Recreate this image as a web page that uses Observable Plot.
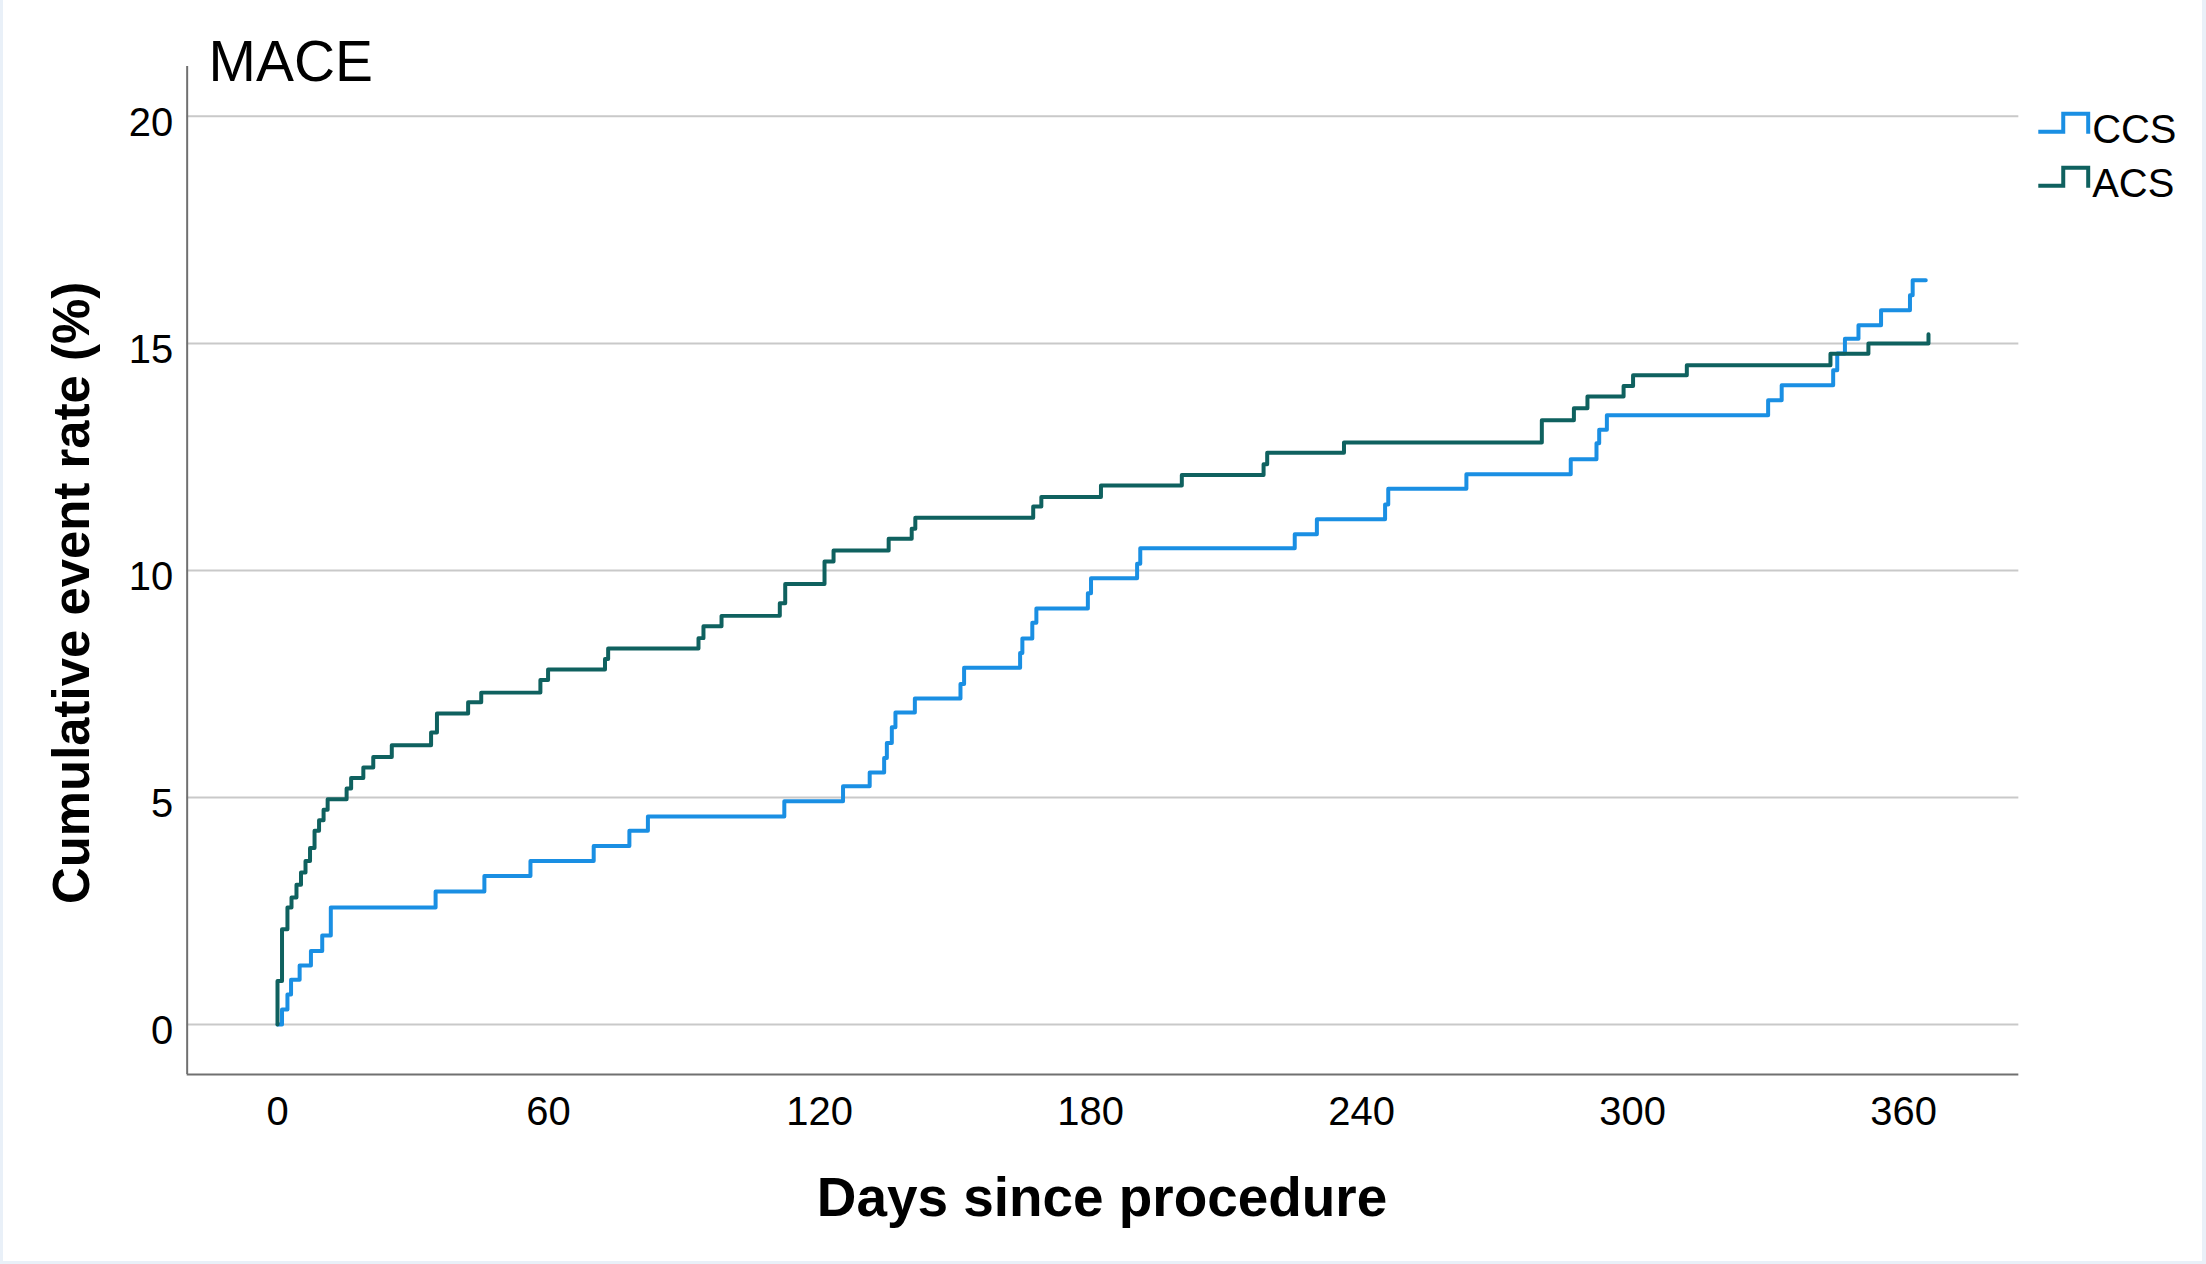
<!DOCTYPE html>
<html>
<head>
<meta charset="utf-8">
<script src="https://cdn.jsdelivr.net/npm/d3@7"></script>
<script src="https://cdn.jsdelivr.net/npm/@observablehq/plot@0.6"></script>
<style>
  html, body { margin: 0; padding: 0; background: #fff; overflow: hidden; }
  #wrap { position: relative; width: 2206px; height: 1264px; box-sizing: border-box;
          border-left: 3px solid #e9f0f8; border-right: 4px solid #e9f0f8; border-bottom: 3px solid #e9f0f8; }
  #chart { position: absolute; left: -3px; top: 0; }
  svg text { font-family: "Liberation Sans", Arial, sans-serif; }
</style>
</head>
<body>
<div id="wrap"><div id="chart"></div></div>
<script>
// ---- data ----
const titleText = "MACE";
const xLabel = "Days since procedure";
const yLabel = "Cumulative event rate (%)";
const xTicks = [0, 60, 120, 180, 240, 300, 360];
const yTicks = [0, 5, 10, 15, 20];
const seriesNames = ["CCS", "ACS"];
const seriesColors = ["#1a8fe3", "#0f615f"];

const ccsDay = [0, 1.0, 2.2, 3.0, 4.9, 7.4, 9.9, 11.8, 35.0, 45.8, 56.0, 70.0, 77.9, 82.0,
  112.2, 125.2, 131.1, 134.3, 134.9, 136.0, 136.8, 141.1, 151.2, 152.0, 164.4, 164.9, 167.1, 168.0,
  179.4, 180.1, 190.3, 191.0, 225.2, 230.1, 245.2, 245.9, 263.2, 286.3, 292.0, 292.6, 294.3,
  330.0, 333.0, 344.4, 345.3, 347.0, 350.0, 355.0, 361.4, 362.0, 364.9];
const ccsRate = [0, 0.33, 0.66, 0.99, 1.3, 1.62, 1.96, 2.58, 2.93, 3.27, 3.6, 3.93, 4.27, 4.58,
  4.92, 5.25, 5.55, 5.87, 6.2, 6.55, 6.87, 7.18, 7.5, 7.86, 8.18, 8.5, 8.85, 9.16,
  9.5, 9.83, 10.15, 10.49, 10.8, 11.13, 11.45, 11.8, 12.12, 12.45, 12.8, 13.1, 13.42,
  13.75, 14.08, 14.41, 14.78, 15.1, 15.4, 15.73, 16.06, 16.39, 16.39];

const acsDay = [0, 0, 1.0, 2.2, 3.1, 4.2, 5.2, 6.2, 7.2, 8.2, 9.2, 10.2, 11.1, 15.3, 16.3, 19.0,
  21.2, 25.3, 34.0, 35.3, 42.2, 45.1, 58.2, 59.9, 72.5, 73.2, 93.2, 94.3, 98.3, 111.2, 112.4,
  121.1, 123.1, 135.3, 140.4, 141.2, 167.3, 169.1, 182.3, 200.2, 218.3, 219.1, 236.1, 279.9,
  287.0, 290.0, 298.0, 300.1, 312.0, 343.8, 352.2, 365.5];
const acsRate = [0, 0.96, 2.1, 2.58, 2.8, 3.08, 3.35, 3.6, 3.89, 4.27, 4.5, 4.73, 4.96, 5.2, 5.43, 5.66,
  5.89, 6.15, 6.43, 6.85, 7.1, 7.31, 7.59, 7.82, 8.05, 8.28, 8.51, 8.77, 9.0, 9.28, 9.7,
  10.2, 10.44, 10.7, 10.92, 11.16, 11.41, 11.62, 11.87, 12.1, 12.34, 12.59, 12.82, 13.31,
  13.57, 13.83, 14.06, 14.3, 14.52, 14.77, 15.0, 15.2];

const ccs = ccsDay.map((d, i) => ({day: d, rate: ccsRate[i]}));
const acs = acsDay.map((d, i) => ({day: d, rate: acsRate[i]}));

const W = 2206, H = 1264;
const plot = Plot.plot({
  width: W, height: H,
  marginLeft: 187, marginRight: 184, marginTop: 66, marginBottom: 188,
  style: {fontFamily: "'Liberation Sans', Arial, sans-serif", fontSize: "40px", color: "#000", background: "transparent"},
  x: {domain: [-20, 385.5]},
  y: {domain: [-1.1, 21.1]},
  marks: [
    Plot.ruleY(yTicks, {stroke: "#c9c9c9", strokeWidth: 2}),
    Plot.ruleX([-20], {stroke: "#707070", strokeWidth: 2}),
    Plot.ruleY([-1.1], {stroke: "#707070", strokeWidth: 2}),
    Plot.axisX({ticks: xTicks, tickSize: 0, tickPadding: 22, label: null, fontSize: 40, fill: "#000"}),
    Plot.axisY({ticks: yTicks, tickSize: 0, tickPadding: 14, label: null, fontSize: 40, fill: "#000", dy: 7}),
    Plot.line(ccs, {x: "day", y: "rate", curve: "step-after", stroke: seriesColors[0], strokeWidth: 4}),
    Plot.line(acs, {x: "day", y: "rate", curve: "step-after", stroke: seriesColors[1], strokeWidth: 4})
  ]
});
document.getElementById("chart").appendChild(plot);

const svg = d3.select(plot);
const font = "'Liberation Sans', Arial, sans-serif";
// title
svg.append("text").attr("x", 209).attr("y", 81).attr("text-anchor", "start").attr("font-size", 57)
  .attr("font-family", font).attr("fill", "#000").text(titleText);
// x axis title
svg.append("text").attr("x", 1104).attr("y", 1218).attr("text-anchor", "middle")
  .attr("font-size", 55).attr("font-weight", "bold").attr("font-family", font).attr("fill", "#000").text(xLabel);
// y axis title
svg.append("text").attr("transform", "translate(89,594) rotate(-90)").attr("text-anchor", "middle")
  .attr("font-size", 51).attr("font-weight", "bold").attr("font-family", font).attr("fill", "#000").text(yLabel);
// legend
const legY = [143, 197];
seriesNames.forEach((name, i) => {
  const b = legY[i];
  svg.append("path")
    .attr("d", `M2042,${b - 11} H2067 V${b - 29} H2092 V${b - 9}`)
    .attr("fill", "none").attr("stroke", seriesColors[i]).attr("stroke-width", 4);
  svg.append("text").attr("x", 2096).attr("y", b).attr("text-anchor", "start").attr("font-size", 40)
    .attr("font-family", font).attr("fill", "#000").text(name);
});
</script>
</body>
</html>
